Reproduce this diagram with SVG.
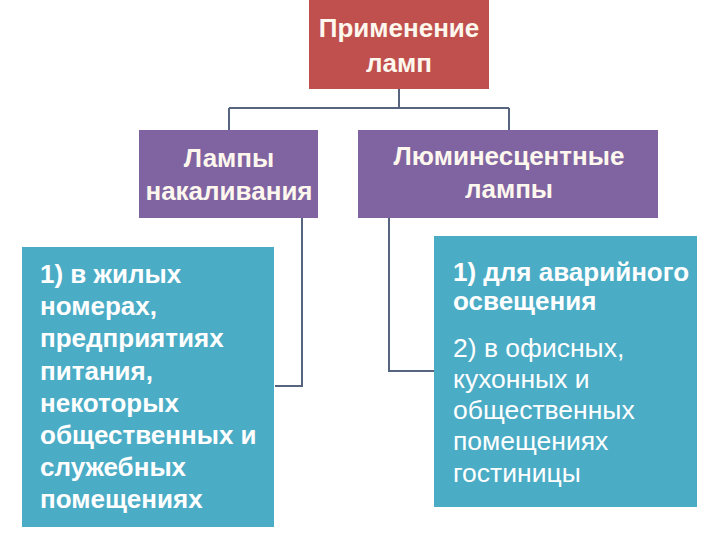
<svg xmlns="http://www.w3.org/2000/svg" width="720" height="540" viewBox="0 0 720 540">
<style>
.t{font-family:"Liberation Sans","DejaVu Sans",sans-serif;fill:#ffffff}
.h{font-size:26px;font-weight:bold;text-anchor:middle;fill:#fdf7ee}
.b{font-size:26px;font-weight:bold}
.r{font-size:26.5px}
.c{fill:none;stroke:#56647f;stroke-width:2}
</style>
<rect width="720" height="540" fill="#ffffff"/>
<g id="connectors">
<path class="c" d="M399 89 V108 M229 108 H509 M229 108 V130 M509 108 V130"/>
<path class="c" d="M302 218 V386 H275"/>
<path class="c" d="M389 218 V371 H434"/>
</g>
<g id="top">
<rect x="309" y="0" width="180" height="89" fill="#c0504d"/>
<text class="t h" x="399" y="37">Применение</text>
<text class="t h" x="399" y="72">ламп</text>
</g>
<g id="incandescent">
<rect x="139" y="130" width="179" height="88" fill="#8064a2"/>
<text class="t h" x="229" y="167">Лампы</text>
<text class="t h" x="229" y="200">накаливания</text>
</g>
<g id="fluorescent">
<rect x="358" y="130" width="300" height="88" fill="#8064a2"/>
<text class="t h" x="509" y="165">Люминесцентные</text>
<text class="t h" x="509" y="198">лампы</text>
</g>
<g id="left-list">
<rect x="22" y="247" width="252" height="280" fill="#4bacc6"/>
<text class="t b" x="40" y="283">1) в жилых</text>
<text class="t b" x="40" y="315">номерах,</text>
<text class="t b" x="40" y="347">предприятиях</text>
<text class="t b" x="40" y="380">питания,</text>
<text class="t b" x="40" y="412">некоторых</text>
<text class="t b" x="40" y="444">общественных и</text>
<text class="t b" x="40" y="476">служебных</text>
<text class="t b" x="40" y="508">помещениях</text>
</g>
<g id="right-list">
<rect x="434" y="236" width="263" height="271" fill="#4bacc6"/>
<text class="t b" x="453" y="281">1) для аварийного</text>
<text class="t b" x="453" y="310">освещения</text>
<text class="t r" x="453" y="357">2) в офисных,</text>
<text class="t r" x="453" y="388">кухонных и</text>
<text class="t r" x="453" y="419">общественных</text>
<text class="t r" x="453" y="450">помещениях</text>
<text class="t r" x="453" y="482">гостиницы</text>
</g>
</svg>
